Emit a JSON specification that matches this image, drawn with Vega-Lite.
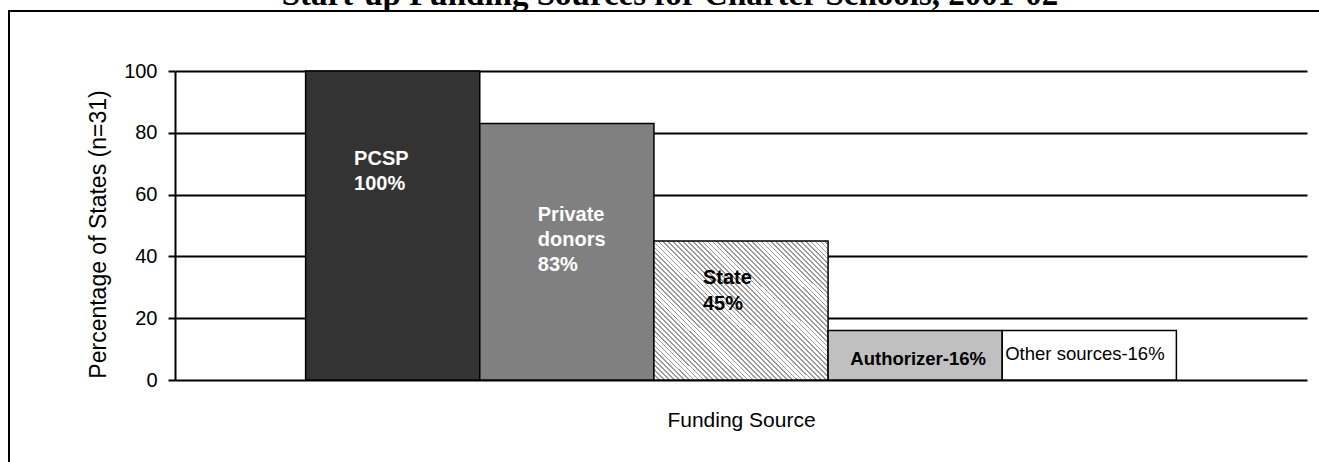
{
  "$schema": "https://vega.github.io/schema/vega-lite/v6.json",
  "width": 1310,
  "height": 451,
  "autosize": "none",
  "padding": {"left": 9, "top": 11, "right": 0, "bottom": 0},
  "background": "white",
  "title": {
    "text": "Start-up Funding Sources for Charter Schools, 2001-02",
    "font": "Liberation Serif",
    "fontSize": 33,
    "fontWeight": "bold",
    "color": "black",
    "anchor": "middle",
    "frame": "group",
    "baseline": "alphabetic",
    "offset": -27,
    "dx": 6
  },
  "config": {
    "view": {"stroke": "black", "strokeWidth": 2, "strokeDash": [1310, 1761, 451]},
    "axis": {"labelFont": "Liberation Sans", "titleFont": "Liberation Sans", "labelColor": "black", "titleColor": "black", "titleFontWeight": "normal"}
  },
  "data": {
    "values": [
      {"source": "PCSP", "value": 100, "label": "PCSP\n100%"},
      {"source": "Private donors", "value": 83, "label": "Private\ndonors\n83%"},
      {"source": "State", "value": 45, "label": "State\n45%"},
      {"source": "Authorizer", "value": 16, "label": "Authorizer-16%"},
      {"source": "Other sources", "value": 16, "label": "Other sources-16%"}
    ]
  },
  "encoding": {
    "x": {
      "field": "source",
      "type": "nominal",
      "sort": ["PCSP", "Private donors", "State", "Authorizer", "Other sources"],
      "scale": {"range": [166, 1298], "paddingInner": 0, "paddingOuter": 0.75},
      "axis": {"title": "Funding Source", "labels": false, "ticks": false, "domain": false, "grid": false, "offset": -82, "titleFontSize": 21, "titlePadding": 29}
    },
    "y": {
      "field": "value",
      "type": "quantitative",
      "scale": {"domain": [0, 100], "range": [369, 60], "nice": false},
      "axis": {
        "title": "Percentage of States (n=31)",
        "values": [0, 20, 40, 60, 80, 100],
        "offset": -166,
        "grid": true, "gridColor": "black", "gridWidth": 2, "gridOpacity": 1,
        "domain": true, "domainColor": "black", "domainWidth": 2,
        "ticks": true, "tickColor": "black", "tickWidth": 2, "tickSize": 7,
        "labelFontSize": 20, "labelPadding": 11,
        "titleFontSize": 23, "titlePadding": 13, "titleY": 223
      }
    }
  },
  "layer": [
    {
      "mark": {"type": "bar", "stroke": "black", "strokeWidth": 1.5, "opacity": 1},
      "encoding": {
        "color": {
          "condition": {
            "test": "datum.source === 'State'",
            "value": {
              "gradient": "linear", "x1": 0, "y1": 1, "x2": 1.1, "y2": 0.12,
              "stops": [
{"offset":0,"color":"#999"},{"offset":0.0055,"color":"#999"},{"offset":0.0055,"color":"#fff"},{"offset":0.0156,"color":"#fff"},
{"offset":0.0156,"color":"#999"},{"offset":0.0211,"color":"#999"},{"offset":0.0211,"color":"#fff"},{"offset":0.0313,"color":"#fff"},
{"offset":0.0313,"color":"#999"},{"offset":0.0368,"color":"#999"},{"offset":0.0368,"color":"#fff"},{"offset":0.0469,"color":"#fff"},
{"offset":0.0469,"color":"#999"},{"offset":0.0524,"color":"#999"},{"offset":0.0524,"color":"#fff"},{"offset":0.0625,"color":"#fff"},
{"offset":0.0625,"color":"#999"},{"offset":0.068,"color":"#999"},{"offset":0.068,"color":"#fff"},{"offset":0.0781,"color":"#fff"},
{"offset":0.0781,"color":"#999"},{"offset":0.0836,"color":"#999"},{"offset":0.0836,"color":"#fff"},{"offset":0.0938,"color":"#fff"},
{"offset":0.0938,"color":"#999"},{"offset":0.0993,"color":"#999"},{"offset":0.0993,"color":"#fff"},{"offset":0.1094,"color":"#fff"},
{"offset":0.1094,"color":"#999"},{"offset":0.1149,"color":"#999"},{"offset":0.1149,"color":"#fff"},{"offset":0.125,"color":"#fff"},
{"offset":0.125,"color":"#999"},{"offset":0.1305,"color":"#999"},{"offset":0.1305,"color":"#fff"},{"offset":0.1406,"color":"#fff"},
{"offset":0.1406,"color":"#999"},{"offset":0.1461,"color":"#999"},{"offset":0.1461,"color":"#fff"},{"offset":0.1563,"color":"#fff"},
{"offset":0.1563,"color":"#999"},{"offset":0.1618,"color":"#999"},{"offset":0.1618,"color":"#fff"},{"offset":0.1719,"color":"#fff"},
{"offset":0.1719,"color":"#999"},{"offset":0.1774,"color":"#999"},{"offset":0.1774,"color":"#fff"},{"offset":0.1875,"color":"#fff"},
{"offset":0.1875,"color":"#999"},{"offset":0.193,"color":"#999"},{"offset":0.193,"color":"#fff"},{"offset":0.2031,"color":"#fff"},
{"offset":0.2031,"color":"#999"},{"offset":0.2086,"color":"#999"},{"offset":0.2086,"color":"#fff"},{"offset":0.2188,"color":"#fff"},
{"offset":0.2188,"color":"#999"},{"offset":0.2243,"color":"#999"},{"offset":0.2243,"color":"#fff"},{"offset":0.2344,"color":"#fff"},
{"offset":0.2344,"color":"#999"},{"offset":0.2399,"color":"#999"},{"offset":0.2399,"color":"#fff"},{"offset":0.25,"color":"#fff"},
{"offset":0.25,"color":"#999"},{"offset":0.2555,"color":"#999"},{"offset":0.2555,"color":"#fff"},{"offset":0.2656,"color":"#fff"},
{"offset":0.2656,"color":"#999"},{"offset":0.2711,"color":"#999"},{"offset":0.2711,"color":"#fff"},{"offset":0.2813,"color":"#fff"},
{"offset":0.2813,"color":"#999"},{"offset":0.2868,"color":"#999"},{"offset":0.2868,"color":"#fff"},{"offset":0.2969,"color":"#fff"},
{"offset":0.2969,"color":"#999"},{"offset":0.3024,"color":"#999"},{"offset":0.3024,"color":"#fff"},{"offset":0.3125,"color":"#fff"},
{"offset":0.3125,"color":"#999"},{"offset":0.318,"color":"#999"},{"offset":0.318,"color":"#fff"},{"offset":0.3281,"color":"#fff"},
{"offset":0.3281,"color":"#999"},{"offset":0.3336,"color":"#999"},{"offset":0.3336,"color":"#fff"},{"offset":0.3438,"color":"#fff"},
{"offset":0.3438,"color":"#999"},{"offset":0.3493,"color":"#999"},{"offset":0.3493,"color":"#fff"},{"offset":0.3594,"color":"#fff"},
{"offset":0.3594,"color":"#999"},{"offset":0.3649,"color":"#999"},{"offset":0.3649,"color":"#fff"},{"offset":0.375,"color":"#fff"},
{"offset":0.375,"color":"#999"},{"offset":0.3805,"color":"#999"},{"offset":0.3805,"color":"#fff"},{"offset":0.3906,"color":"#fff"},
{"offset":0.3906,"color":"#999"},{"offset":0.3961,"color":"#999"},{"offset":0.3961,"color":"#fff"},{"offset":0.4063,"color":"#fff"},
{"offset":0.4063,"color":"#999"},{"offset":0.4118,"color":"#999"},{"offset":0.4118,"color":"#fff"},{"offset":0.4219,"color":"#fff"},
{"offset":0.4219,"color":"#999"},{"offset":0.4274,"color":"#999"},{"offset":0.4274,"color":"#fff"},{"offset":0.4375,"color":"#fff"},
{"offset":0.4375,"color":"#999"},{"offset":0.443,"color":"#999"},{"offset":0.443,"color":"#fff"},{"offset":0.4531,"color":"#fff"},
{"offset":0.4531,"color":"#999"},{"offset":0.4586,"color":"#999"},{"offset":0.4586,"color":"#fff"},{"offset":0.4688,"color":"#fff"},
{"offset":0.4688,"color":"#999"},{"offset":0.4743,"color":"#999"},{"offset":0.4743,"color":"#fff"},{"offset":0.4844,"color":"#fff"},
{"offset":0.4844,"color":"#999"},{"offset":0.4899,"color":"#999"},{"offset":0.4899,"color":"#fff"},{"offset":0.5,"color":"#fff"},
{"offset":0.5,"color":"#999"},{"offset":0.5055,"color":"#999"},{"offset":0.5055,"color":"#fff"},{"offset":0.5156,"color":"#fff"},
{"offset":0.5156,"color":"#999"},{"offset":0.5211,"color":"#999"},{"offset":0.5211,"color":"#fff"},{"offset":0.5313,"color":"#fff"},
{"offset":0.5313,"color":"#999"},{"offset":0.5368,"color":"#999"},{"offset":0.5368,"color":"#fff"},{"offset":0.5469,"color":"#fff"},
{"offset":0.5469,"color":"#999"},{"offset":0.5524,"color":"#999"},{"offset":0.5524,"color":"#fff"},{"offset":0.5625,"color":"#fff"},
{"offset":0.5625,"color":"#999"},{"offset":0.568,"color":"#999"},{"offset":0.568,"color":"#fff"},{"offset":0.5781,"color":"#fff"},
{"offset":0.5781,"color":"#999"},{"offset":0.5836,"color":"#999"},{"offset":0.5836,"color":"#fff"},{"offset":0.5938,"color":"#fff"},
{"offset":0.5938,"color":"#999"},{"offset":0.5993,"color":"#999"},{"offset":0.5993,"color":"#fff"},{"offset":0.6094,"color":"#fff"},
{"offset":0.6094,"color":"#999"},{"offset":0.6149,"color":"#999"},{"offset":0.6149,"color":"#fff"},{"offset":0.625,"color":"#fff"},
{"offset":0.625,"color":"#999"},{"offset":0.6305,"color":"#999"},{"offset":0.6305,"color":"#fff"},{"offset":0.6406,"color":"#fff"},
{"offset":0.6406,"color":"#999"},{"offset":0.6461,"color":"#999"},{"offset":0.6461,"color":"#fff"},{"offset":0.6563,"color":"#fff"},
{"offset":0.6563,"color":"#999"},{"offset":0.6618,"color":"#999"},{"offset":0.6618,"color":"#fff"},{"offset":0.6719,"color":"#fff"},
{"offset":0.6719,"color":"#999"},{"offset":0.6774,"color":"#999"},{"offset":0.6774,"color":"#fff"},{"offset":0.6875,"color":"#fff"},
{"offset":0.6875,"color":"#999"},{"offset":0.693,"color":"#999"},{"offset":0.693,"color":"#fff"},{"offset":0.7031,"color":"#fff"},
{"offset":0.7031,"color":"#999"},{"offset":0.7086,"color":"#999"},{"offset":0.7086,"color":"#fff"},{"offset":0.7188,"color":"#fff"},
{"offset":0.7188,"color":"#999"},{"offset":0.7243,"color":"#999"},{"offset":0.7243,"color":"#fff"},{"offset":0.7344,"color":"#fff"},
{"offset":0.7344,"color":"#999"},{"offset":0.7399,"color":"#999"},{"offset":0.7399,"color":"#fff"},{"offset":0.75,"color":"#fff"},
{"offset":0.75,"color":"#999"},{"offset":0.7555,"color":"#999"},{"offset":0.7555,"color":"#fff"},{"offset":0.7656,"color":"#fff"},
{"offset":0.7656,"color":"#999"},{"offset":0.7711,"color":"#999"},{"offset":0.7711,"color":"#fff"},{"offset":0.7813,"color":"#fff"},
{"offset":0.7813,"color":"#999"},{"offset":0.7868,"color":"#999"},{"offset":0.7868,"color":"#fff"},{"offset":0.7969,"color":"#fff"},
{"offset":0.7969,"color":"#999"},{"offset":0.8024,"color":"#999"},{"offset":0.8024,"color":"#fff"},{"offset":0.8125,"color":"#fff"},
{"offset":0.8125,"color":"#999"},{"offset":0.818,"color":"#999"},{"offset":0.818,"color":"#fff"},{"offset":0.8281,"color":"#fff"},
{"offset":0.8281,"color":"#999"},{"offset":0.8336,"color":"#999"},{"offset":0.8336,"color":"#fff"},{"offset":0.8438,"color":"#fff"},
{"offset":0.8438,"color":"#999"},{"offset":0.8493,"color":"#999"},{"offset":0.8493,"color":"#fff"},{"offset":0.8594,"color":"#fff"},
{"offset":0.8594,"color":"#999"},{"offset":0.8649,"color":"#999"},{"offset":0.8649,"color":"#fff"},{"offset":0.875,"color":"#fff"},
{"offset":0.875,"color":"#999"},{"offset":0.8805,"color":"#999"},{"offset":0.8805,"color":"#fff"},{"offset":0.8906,"color":"#fff"},
{"offset":0.8906,"color":"#999"},{"offset":0.8961,"color":"#999"},{"offset":0.8961,"color":"#fff"},{"offset":0.9063,"color":"#fff"},
{"offset":0.9063,"color":"#999"},{"offset":0.9118,"color":"#999"},{"offset":0.9118,"color":"#fff"},{"offset":0.9219,"color":"#fff"},
{"offset":0.9219,"color":"#999"},{"offset":0.9274,"color":"#999"},{"offset":0.9274,"color":"#fff"},{"offset":0.9375,"color":"#fff"},
{"offset":0.9375,"color":"#999"},{"offset":0.943,"color":"#999"},{"offset":0.943,"color":"#fff"},{"offset":0.9531,"color":"#fff"},
{"offset":0.9531,"color":"#999"},{"offset":0.9586,"color":"#999"},{"offset":0.9586,"color":"#fff"},{"offset":0.9688,"color":"#fff"},
{"offset":0.9688,"color":"#999"},{"offset":0.9743,"color":"#999"},{"offset":0.9743,"color":"#fff"},{"offset":0.9844,"color":"#fff"},
{"offset":0.9844,"color":"#999"},{"offset":0.9899,"color":"#999"},{"offset":0.9899,"color":"#fff"},{"offset":1,"color":"#fff"}
              ]
            }
          },
          "field": "source",
          "type": "nominal",
          "scale": {
            "domain": ["PCSP", "Private donors", "State", "Authorizer", "Other sources"],
            "range": ["#333333", "#808080", "#d5d5d5", "#c0c0c0", "#ffffff"]
          },
          "legend": null
        }
      }
    },
    {
      "transform": [{"filter": "datum.source === 'PCSP'"}],
      "mark": {"type": "text", "align": "left", "baseline": "alphabetic", "font": "Liberation Sans", "fontSize": 20, "fontWeight": "bold", "color": "white", "lineBreak": "\n", "lineHeight": 25, "dx": 48.5, "dy": 94},
      "encoding": {"x": {"field": "source", "type": "nominal", "bandPosition": 0}, "text": {"field": "label"}}
    },
    {
      "transform": [{"filter": "datum.source === 'Private donors'"}],
      "mark": {"type": "text", "align": "left", "baseline": "alphabetic", "font": "Liberation Sans", "fontSize": 20, "fontWeight": "bold", "color": "white", "lineBreak": "\n", "lineHeight": 25, "dx": 58, "dy": 97.5},
      "encoding": {"x": {"field": "source", "type": "nominal", "bandPosition": 0}, "text": {"field": "label"}}
    },
    {
      "transform": [{"filter": "datum.source === 'State'"}],
      "mark": {"type": "text", "align": "left", "baseline": "alphabetic", "font": "Liberation Sans", "fontSize": 20, "fontWeight": "bold", "color": "black", "lineBreak": "\n", "lineHeight": 26, "dx": 49, "dy": 43},
      "encoding": {"x": {"field": "source", "type": "nominal", "bandPosition": 0}, "text": {"field": "label"}}
    },
    {
      "transform": [{"filter": "datum.source === 'Authorizer'"}],
      "mark": {"type": "text", "align": "center", "baseline": "alphabetic", "font": "Liberation Sans", "fontSize": 18.5, "fontWeight": "bold", "color": "black", "dx": 3, "dy": 34},
      "encoding": {"x": {"field": "source", "type": "nominal", "bandPosition": 0.5}, "text": {"field": "label"}}
    },
    {
      "transform": [{"filter": "datum.source === 'Other sources'"}],
      "mark": {"type": "text", "align": "left", "baseline": "alphabetic", "font": "Liberation Sans", "fontSize": 18.5, "fontWeight": "normal", "color": "black", "dx": 3, "dy": 29.5},
      "encoding": {"x": {"field": "source", "type": "nominal", "bandPosition": 0}, "text": {"field": "label"}}
    }
  ]
}
